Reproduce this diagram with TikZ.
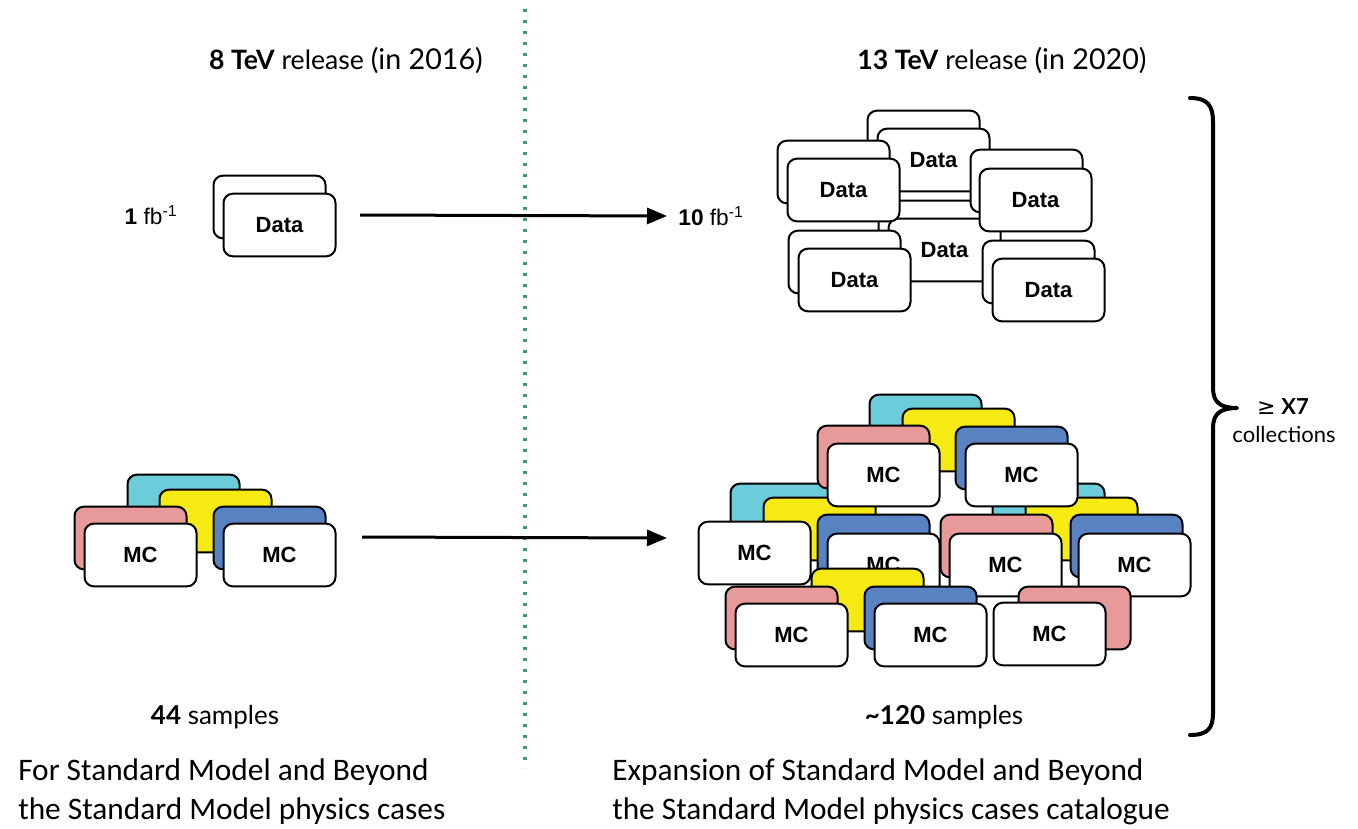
\documentclass[tikz,border=0pt]{standalone}
\usepackage{fontspec}
\setmainfont{Lato}
\newfontfamily\arialf{Liberation Sans}
\newfontfamily\calf{Carlito}
\newfontfamily\dejavuf{DejaVu Sans}
\usetikzlibrary{arrows.meta}
\definecolor{cyanC}{RGB}{108,204,218}
\definecolor{yellowC}{RGB}{245,234,20}
\definecolor{pinkC}{RGB}{232,154,154}
\definecolor{blueC}{RGB}{88,130,194}
\definecolor{dotC}{RGB}{60,160,110}
\begin{document}
\begin{tikzpicture}[x=0.75pt,y=-0.75pt,
  card/.style={draw=black, line width=1.5pt, rounded corners=7pt,
    minimum width=84pt, minimum height=47pt, inner sep=0pt,
    font=\arialf\bfseries\fontsize{16.5}{19}\selectfont},
  wcard/.style={card, fill=white},
  ccard/.style={card, fill=cyanC},
  ycard/.style={card, fill=yellowC},
  pcard/.style={card, fill=pinkC},
  bcard/.style={card, fill=blueC},
  conn/.style={line width=2.25pt, -{Triangle[length=15pt,width=12pt]}},
  head/.style={inner sep=0pt, font=\fontsize{20}{24}\selectfont},
  samp/.style={inner sep=0pt, font=\fontsize{19.5}{23}\selectfont},
  lumi/.style={inner sep=0pt, font=\arialf\fontsize{17}{20}\selectfont},
  caption/.style={inner sep=0pt, align=left, anchor=west,
    font=\calf\fontsize{23.5}{29.25}\selectfont},
  dotline/.style={dotC, line width=3.2pt, dash pattern=on 2.4pt off 5.85pt},
  brace/.style={line width=3pt, line cap=round, line join=round}
]
\useasboundingbox (0,0) rectangle (1358,828);

% separator
\coordinate (dtop) at (525,9);
\coordinate (dbot) at (525,768);
\draw[dotline] (dtop) -- (dbot);

% headers
\node[head] (h8) at (346,60) {\textbf{8 TeV} release {\fontsize{21.5}{24}\selectfont(in 2016)}};
\node[head] (h13) at (1002,60) {\textbf{13 TeV} release {\fontsize{21.5}{24}\selectfont(in 2020)}};

% left data
\node[wcard] (dLb) at (269.5,207) {};
\node[wcard] (dLf) at (279.5,225) {Data};
\node[lumi] (l1) at (151,215) {\textbf{1} fb\textsuperscript{-1}};

% right data cluster
\node[wcard] (d1b) at (923.5,142) {};
\node[wcard] (d1f) at (933.5,160) {Data};
\node[wcard] (d4b) at (934.5,232) {};
\node[wcard] (d4f) at (944.5,250) {Data};
\node[wcard] (d2b) at (833.5,172) {};
\node[wcard] (d2f) at (843.5,190) {Data};
\node[wcard] (d3b) at (1026.5,181) {};
\node[wcard] (d3f) at (1035.5,200) {Data};
\node[wcard] (d5b) at (844.5,262) {};
\node[wcard] (d5f) at (854.5,280) {Data};
\node[wcard] (d6b) at (1038.5,272) {};
\node[wcard] (d6f) at (1048.5,290) {Data};
\node[lumi] (l10) at (711,216) {\textbf{10} fb\textsuperscript{-1}};

% top arrow
\coordinate (a1s) at (360,215);
\coordinate (a1e) at (667,216);
\draw[conn] (a1s) -- (a1e);

% left MC cluster
\node[ccard] (mLc) at (183.5,506) {};
\node[ycard] (mLy) at (215.5,521) {};
\node[pcard] (mLp) at (130.5,538) {};
\node[wcard] (mLw1) at (140.5,555) {MC};
\node[bcard] (mLb) at (269.5,538) {};
\node[wcard] (mLw2) at (279.5,555) {MC};

% bottom arrow
\coordinate (a2s) at (362,537);
\coordinate (a2e) at (667,538);
\draw[conn] (a2s) -- (a2e);

% right MC cluster: middle-left group
\node[ccard] (m1c) at (786.5,515) {};
\node[ycard] (m1y) at (819.5,529) {};
\node[wcard] (m1w1) at (754.5,553) {MC};
\node[bcard] (m1b) at (873.5,546) {};
\node[wcard] (m1w2) at (883.5,565) {MC};
% middle-right group
\node[ccard] (m2c) at (1048.5,515) {};
\node[ycard] (m2y) at (1081.5,529) {};
\node[pcard] (m2p) at (996.5,546) {};
\node[wcard] (m2w1) at (1005.5,565) {MC};
\node[bcard] (m2b) at (1126.5,546) {};
\node[wcard] (m2w2) at (1134.5,565) {MC};
% top group
\node[ccard] (m3c) at (925.5,426) {};
\node[ycard] (m3y) at (958.5,440) {};
\node[pcard] (m3p) at (873.5,457) {};
\node[wcard] (m3w1) at (883.5,475) {MC};
\node[bcard] (m3b) at (1011.5,458) {};
\node[wcard] (m3w2) at (1021.5,475) {MC};
% bottom group
\node[ycard] (m4y) at (867.5,600) {};
\node[pcard] (m4p) at (781.5,618) {};
\node[wcard] (m4w1) at (791.5,635) {MC};
\node[bcard] (m4b) at (920.5,618) {};
\node[wcard] (m4w2) at (930.5,635) {MC};
\node[pcard] (m4p2) at (1074.5,618) {};
\node[wcard] (m4w3) at (1049.5,634) {MC};

% sample counts
\node[samp] (s44) at (215,717) {\textbf{44} samples};
\node[samp] (s120) at (944,717) {\textbf{\textasciitilde120} samples};

% brace
\coordinate (bt) at (1190,98);
\coordinate (bm) at (1237,408);
\coordinate (bb) at (1190,735);
\draw[brace] (bt) .. controls (1208,98) and (1213,106) .. (1213,122)
  -- (1213,388) .. controls (1213,402) and (1220,408) .. (bm)
  .. controls (1220,408) and (1213,414) .. (1213,428)
  -- (1213,713) .. controls (1213,728) and (1208,735) .. (bb);
\node[inner sep=0pt, font=\fontsize{16.5}{19}\selectfont] (x7) at (1283,407) {{\dejavuf ≥} \textbf{X7}};
\node[inner sep=0pt, font=\fontsize{16.5}{19}\selectfont] (coll) at (1284,434) {collections};

% captions
\node[caption] (capL) at (18,792) {For Standard Model and Beyond\\the Standard Model physics cases};
\node[caption] (capR) at (612,792) {Expansion of Standard Model and Beyond\\the Standard Model physics cases catalogue};
\end{tikzpicture}
\end{document}
